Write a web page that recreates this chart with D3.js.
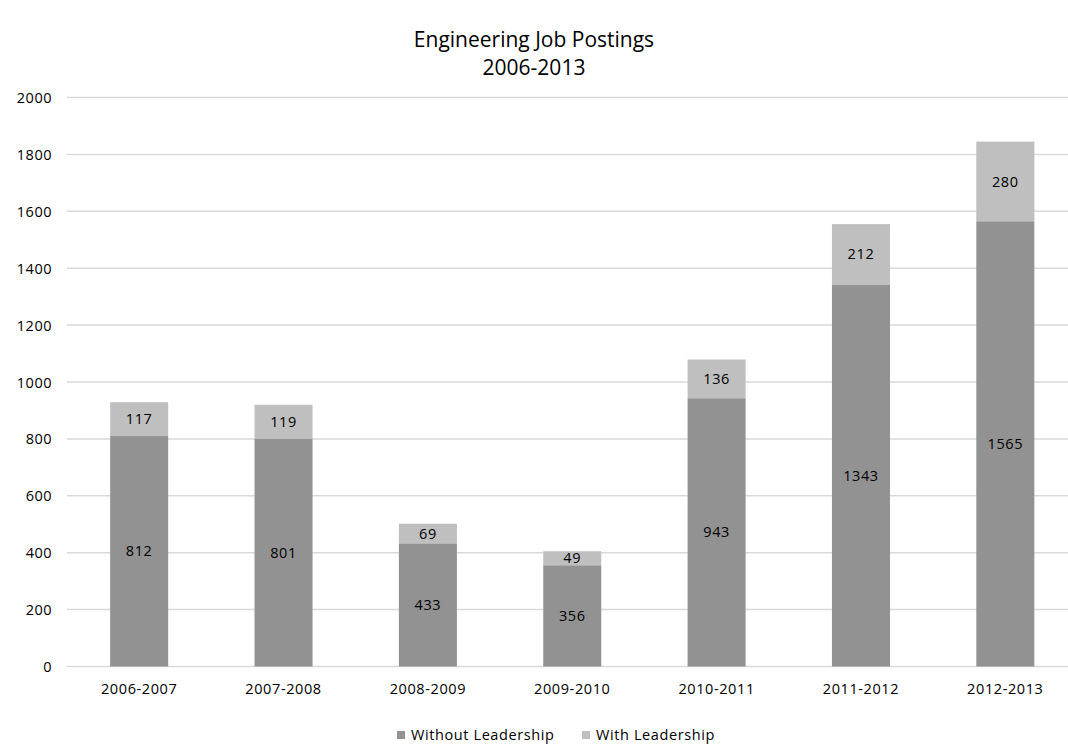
<!DOCTYPE html>
<html>
<head>
<meta charset="utf-8">
<script src="https://cdn.jsdelivr.net/npm/d3@7"></script>
<style>
  body { margin: 0; background: #fff; }
  text { font-family: "Open Sans", "Liberation Sans", sans-serif; fill: #000; }
</style>
</head>
<body>
<svg id="chart" width="1068" height="746"></svg>
<script>
// chart data
const periods = ['2006-2007', '2007-2008', '2008-2009', '2009-2010', '2010-2011', '2011-2012', '2012-2013'];
const withoutLeadership = [812, 801, 433, 356, 943, 1343, 1565];
const withLeadership = [117, 119, 69, 49, 136, 212, 280];
const seriesNames = ['Without Leadership', 'With Leadership'];
const yTicks = [0, 200, 400, 600, 800, 1000, 1200, 1400, 1600, 1800, 2000];

const colors = ['#929292', '#bfbfbf'];

const svg = d3.select('#chart');

const x = d3.scaleBand()
  .domain(periods)
  .range([67, 1077.5])
  .paddingInner(0.598)
  .paddingOuter(0.299);

const y = d3.scaleLinear()
  .domain([0, 2000])
  .range([666.5, 97.5]);

// gridlines
svg.append('g').selectAll('line')
  .data(yTicks)
  .enter()
  .append('line')
  .attr('x1', 67)
  .attr('x2', 1068)
  .attr('y1', d => y(d))
  .attr('y2', d => y(d))
  .style('stroke', '#d9d9d9')
  .style('stroke-width', 1.5)
;

// y axis labels
const yAxis = d3.axisLeft(y).tickValues(yTicks).tickFormat(d3.format('d')).tickSize(0).tickPadding(0);
svg.append('g')
  .attr('transform', 'translate(52,0)')
  .call(yAxis)
  .call(g => g.select('.domain').remove())
  .selectAll('text')
  .attr('dy', '0.35em')
  .style('font-size', '14.5px')
  .style('letter-spacing', '0.5px')
  .style('font-family', '"Open Sans", sans-serif')
  .style('fill', '#000')
;

// x axis labels
const xAxis = d3.axisBottom(x).tickSize(0).tickPadding(0);
svg.append('g')
  .attr('transform', 'translate(0,684)')
  .call(xAxis)
  .call(g => g.select('.domain').remove())
  .selectAll('text')
  .attr('dy', '0.71em')
  .style('font-size', '14.5px')
  .style('letter-spacing', '0.6px')
  .style('font-family', '"Open Sans", sans-serif')
  .style('fill', '#000')
;

// stacked data
const rows = periods.map((p, i) => ({ period: p, without: withoutLeadership[i], with: withLeadership[i] }));
const stacked = d3.stack().keys(['without', 'with'])(rows);

const layers = svg.append('g').selectAll('g')
  .data(stacked)
  .enter()
  .append('g')
  .style('fill', (d, i) => colors[i]);

layers.selectAll('rect')
  .data(d => d)
  .enter()
  .append('rect')
  .attr('x', d => x(d.data.period))
  .attr('width', x.bandwidth())
  .attr('y', d => y(d[1]))
  .attr('height', d => y(d[0]) - y(d[1]))
;

// segment value labels
layers.selectAll('text')
  .data(d => d)
  .enter()
  .append('text')
  .attr('x', d => x(d.data.period) + x.bandwidth() / 2)
  .attr('y', d => (y(d[0]) + y(d[1])) / 2)
  .attr('dy', '0.35em')
  .attr('text-anchor', 'middle')
  .style('font-size', '14.5px')
  .style('letter-spacing', '0.6px')
  .style('fill', '#000')
  .text(d => d[1] - d[0])
;

// title
svg.append('text')
  .attr('x', 534)
  .attr('y', 47)
  .attr('text-anchor', 'middle')
  .style('font-size', '21px')
  .text('Engineering Job Postings');
svg.append('text')
  .attr('x', 534)
  .attr('y', 75)
  .attr('text-anchor', 'middle')
  .style('font-size', '21px')
  .text('2006-2013');

// legend
const legendX = [397, 582];
const legend = svg.append('g').selectAll('g')
  .data(seriesNames)
  .enter()
  .append('g')
  .attr('transform', (d, i) => `translate(${legendX[i]},731)`);
legend.append('rect')
  .attr('width', 8)
  .attr('height', 8)
  .style('fill', (d, i) => colors[i]);
legend.append('text')
  .attr('x', 14)
  .attr('y', 4)
  .attr('dy', '0.35em')
  .style('font-size', '14.5px')
  .style('letter-spacing', '0.6px')
  .text(d => d);
</script>
</body>
</html>
